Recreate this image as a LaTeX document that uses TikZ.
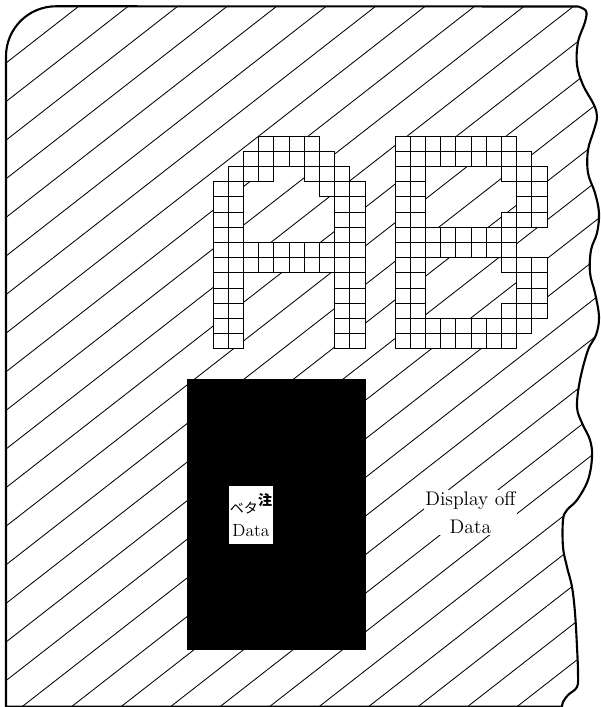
\documentclass[tikz,border=0pt]{standalone}
\usepackage{fontspec}
\newfontfamily\cjk{Noto Sans CJK JP}

\tikzset{
  hatch/.style={line width=0.6pt},
  rim/.style={line width=1.5pt, line join=round},
  pixgrid/.style={step=0.38cm, color=black, line width=0.6pt},
}
\newcommand\rimpath{(6,0.3) -- (6,650.7) arc[start angle=180, end angle=90, radius=1.25cm]
  -- plot[smooth, tension=0.6] coordinates {(578,700.5) (586,696) (585,685) (578,665) (577,642)
  (583,622) (594,602) (597,590) (594,577) (588,557) (588,534) (595,514) (599,494) (597,474)
  (591,457) (590,434) (595,414) (599,390) (596,372) (588,357) (580,327) (577,300) (582,284)
  (590,267) (592,250) (588,227) (577,207) (567,197) (563,187) (563,160) (567,140) (572,120)
  (575,94) (577,60) (578,34) (577,20) (568,12) (563,5) (562,0.3)} -- cycle}

\begin{document}
\begin{tikzpicture}[x=0.025cm, y=0.025cm]
\useasboundingbox (0,0) rectangle (600,707);

\begin{scope}
\clip \rimpath;
\foreach \k in {0,...,28}
  \draw[hatch] (0,{639.3-38.6*\k}) -- ++(600,468);
\end{scope}

\begin{scope}[shift={(213,358.2)}, x=0.38cm, y=0.38cm]
\draw[pixgrid, fill=white] (0,0) rectangle (2,11) (0,0) grid (2,11);
\draw[pixgrid, fill=white] (8,0) rectangle (10,10) (8,0) grid (10,10);
\draw[pixgrid, fill=white] (7,10) rectangle (10,11) (7,10) grid (10,11);
\draw[pixgrid, fill=white] (2,5) rectangle (8,7) (2,5) grid (8,7);
\draw[pixgrid, fill=white] (1,11) rectangle (4,12) (1,11) grid (4,12);
\draw[pixgrid, fill=white] (6,11) rectangle (9,12) (6,11) grid (9,12);
\draw[pixgrid, fill=white] (2,12) rectangle (8,13) (2,12) grid (8,13);
\draw[pixgrid, fill=white] (3,13) rectangle (7,14) (3,13) grid (7,14);
\end{scope}

\begin{scope}[shift={(395,358.2)}, x=0.38cm, y=0.38cm]
\draw[pixgrid, fill=white] (0,0) rectangle (2,14) (0,0) grid (2,14);
\draw[pixgrid, fill=white] (2,13) rectangle (8,14) (2,13) grid (8,14);
\draw[pixgrid, fill=white] (2,12) rectangle (9,13) (2,12) grid (9,13);
\draw[pixgrid, fill=white] (7,11) rectangle (10,12) (7,11) grid (10,12);
\draw[pixgrid, fill=white] (8,9) rectangle (10,11) (8,9) grid (10,11);
\draw[pixgrid, fill=white] (7,8) rectangle (10,9) (7,8) grid (10,9);
\draw[pixgrid, fill=white] (2,6) rectangle (8,8) (2,6) grid (8,8);
\draw[pixgrid, fill=white] (7,5) rectangle (10,6) (7,5) grid (10,6);
\draw[pixgrid, fill=white] (8,3) rectangle (10,5) (8,3) grid (10,5);
\draw[pixgrid, fill=white] (7,2) rectangle (10,3) (7,2) grid (10,3);
\draw[pixgrid, fill=white] (2,1) rectangle (9,2) (2,1) grid (9,2);
\draw[pixgrid, fill=white] (2,0) rectangle (8,1) (2,0) grid (8,1);
\end{scope}

\node[fill=black, minimum width=4.475cm, minimum height=6.775cm, inner sep=0pt] (solid) at (276.5,192.5) {};
\node[fill=white, minimum width=1.1cm, minimum height=1.45cm, inner sep=0pt, align=center,
  font=\fontsize{12.5}{16}\selectfont] (beta) at (251,192)
  {{\cjk\fontsize{10}{12}\selectfont ベタ\raisebox{0.55em}{\bfseries 注}}\\Data};
\node[fill=white, inner sep=1pt, align=center, font=\fontsize{14}{20}\selectfont] (dispoff) at (470.5,194)
  {Display off\\Data};

\draw[rim] \rimpath;
\end{tikzpicture}
\end{document}
